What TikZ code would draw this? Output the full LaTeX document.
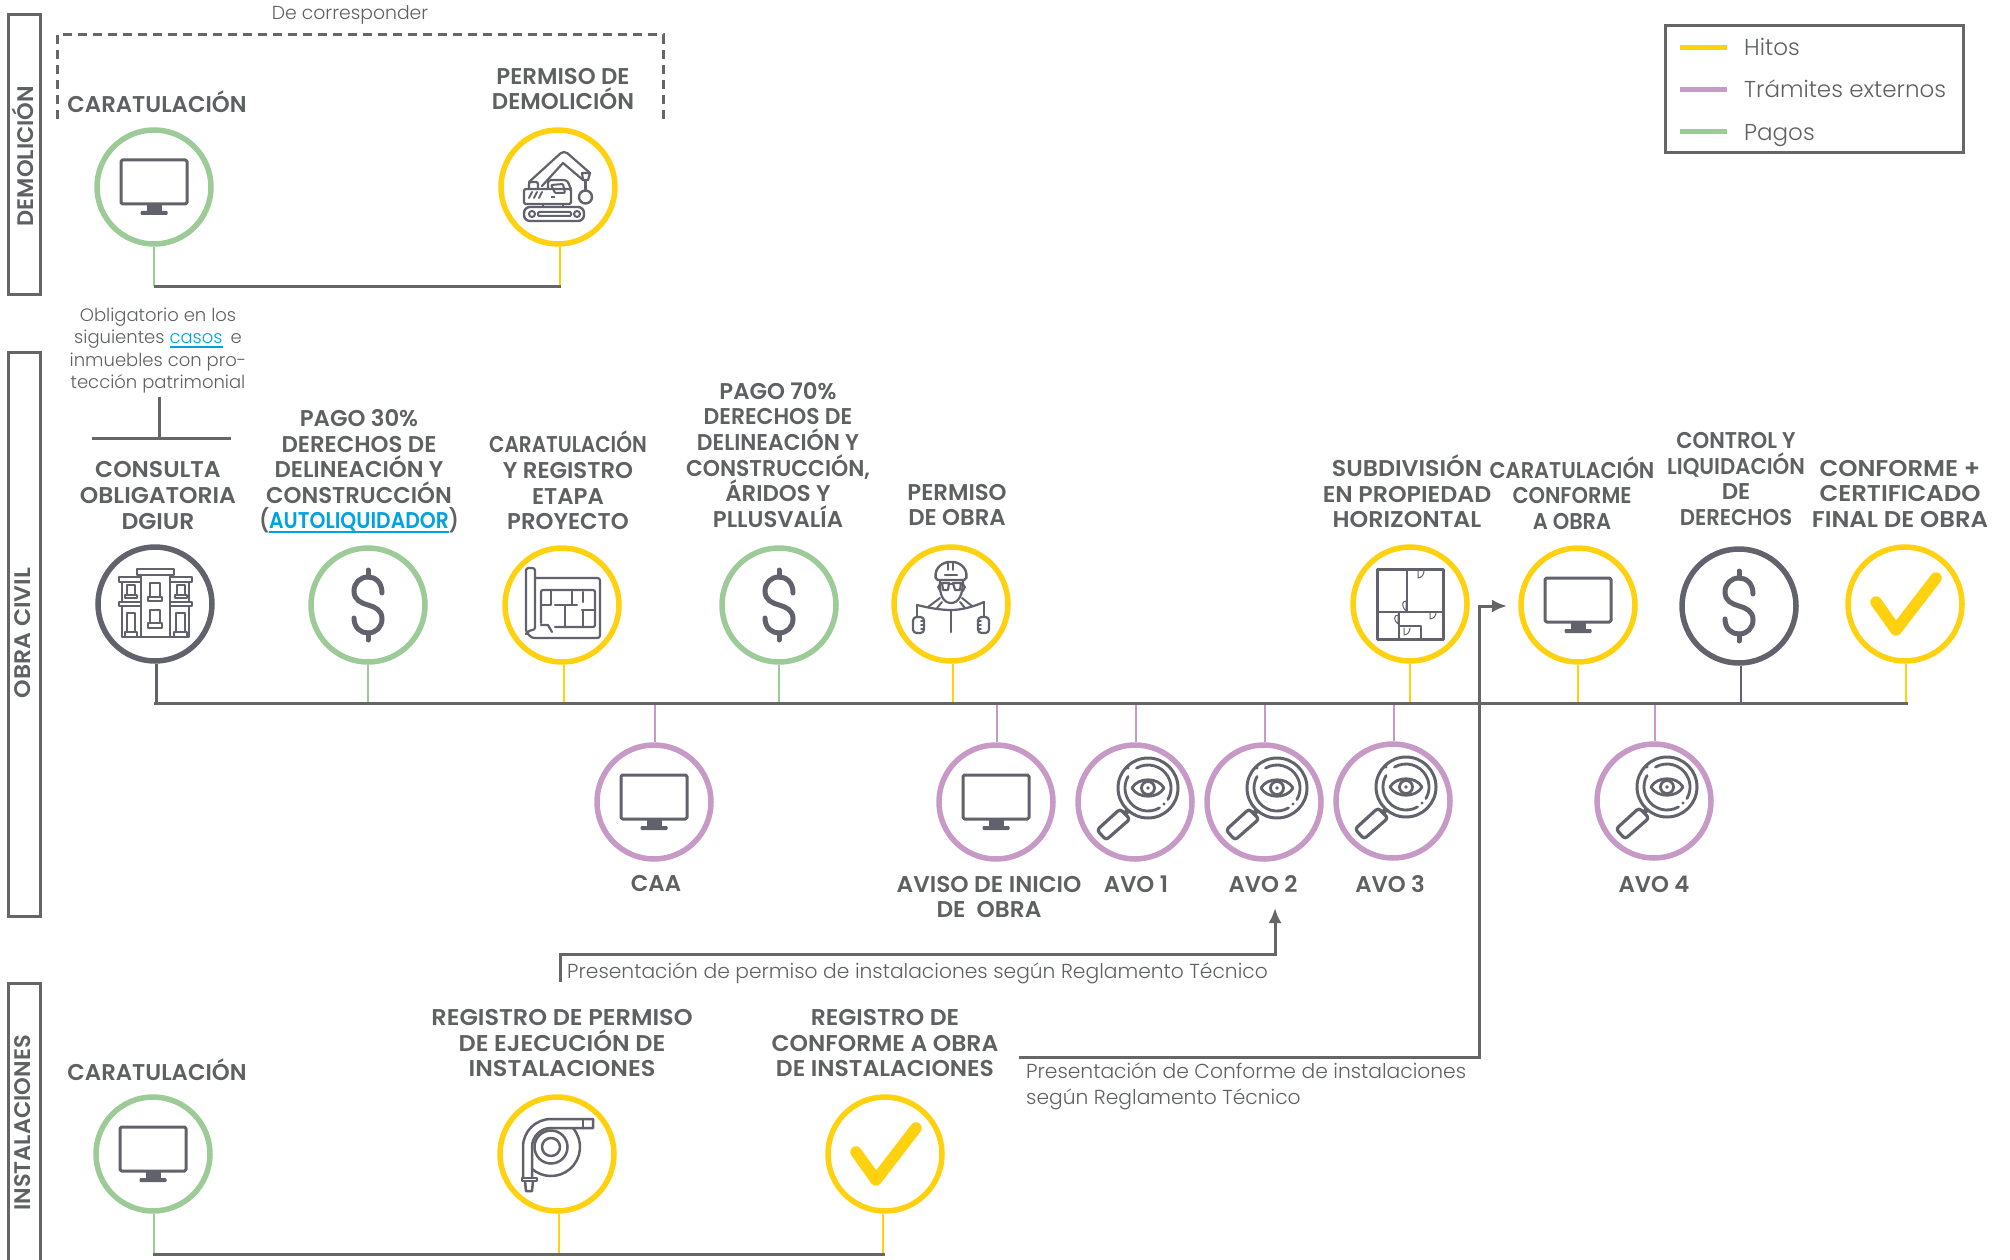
\documentclass[tikz,border=0pt]{standalone}
\usepackage{fontspec}
\usepackage{graphicx}
\setmainfont{Poppins}[BoldFont={Poppins SemiBold}]
\newfontfamily\lightf{Poppins Light}
\usetikzlibrary{arrows.meta}
\definecolor{yel}{HTML}{FFD10F}
\definecolor{pur}{HTML}{C799C6}
\definecolor{grn}{HTML}{9CCB98}
\definecolor{gry}{HTML}{666666}
\definecolor{dgr}{HTML}{62626C}
\definecolor{txg}{HTML}{5F6062}
\definecolor{blu}{HTML}{00A3E0}
\newcommand\myul[1]{\setbox0\hbox{#1}\rlap{\rule[-4.5pt]{\wd0}{2pt}}\box0}
\newcommand\sx[2]{\scalebox{#1}[1]{#2}}
\tikzset{
 ringnode/.style={circle,draw=#1,fill=white,line width=5.5pt,minimum size=114pt,inner sep=0pt},
 lab/.style={text=txg,align=center,inner sep=0pt,font=\fontsize{22.8}{25.6}\selectfont\bfseries},
 body/.style={text=txg,align=left,inner sep=0pt,font=\lightf\fontsize{18}{22.4}\selectfont},
 bodyb/.style={text=txg,align=left,inner sep=0pt,font=\lightf\fontsize{20.25}{25.6}\selectfont},
 legt/.style={text=txg,anchor=base west,inner sep=0pt,font=\lightf\fontsize{23}{26}\selectfont},
 side/.style={text=txg,rotate=90,inner sep=0pt,font=\fontsize{22.5}{24}\selectfont\bfseries},
 bus/.style={draw=gry,line width=3pt},
 stem/.style={line width=2.6pt},
 ic/.style={draw=dgr,line width=2.8pt,line join=round,line cap=round},
 ict/.style={draw=dgr,line width=1.8pt,line join=round,line cap=round},
 monitor/.pic={
  \draw[ic,line width=3pt,rounded corners=1.5pt] (-33,-27) rectangle (33,17);
  \fill[dgr] (-7.5,17) rectangle (7.5,25);
  \fill[dgr,rounded corners=1pt] (-13.5,24) rectangle (13.5,28);
 },
 dollar/.pic={
  \draw[draw=dgr,line width=5pt,line cap=round] (14,-12) .. controls (14,-23) and (7,-28) .. (0,-28) .. controls (-8,-28) and (-14,-22) .. (-14,-14) .. controls (-14,-5) and (-7,-2) .. (0,0) .. controls (7,2) and (14,5) .. (14,14) .. controls (14,22) and (8,28) .. (0,28) .. controls (-7,28) and (-14,23) .. (-14,13);
  \draw[draw=dgr,line width=5pt,line cap=round] (0,-35) -- (0,-28) (0,28) -- (0,35);
 },
 checkmk/.pic={
  \draw[draw=yel,line width=11.5pt,line cap=round,line join=round] (-29,-2) -- (-9,26) -- (31,-26);
 },
 magnif/.pic={
  \draw[ic,line width=3pt] (13,-14) circle (30);
  \draw[ic] (13,-14) ++(240:23) arc (240:390:23);
  \draw[ic] (13,-14) ++(60:23) arc (60:210:23);
  \fill[dgr] (29,2) circle (1.6) (-7,-34) circle (1.6);
  \draw[ic] (-3,-14) .. controls (3,-25) and (23,-25) .. (29,-14) .. controls (23,-3) and (3,-3) .. (-3,-14) -- cycle;
  \draw[ic] (13,-14) circle (6.5);
  \fill[dgr] (13,-14) circle (1.8);
  \draw[ic,line width=5pt,line cap=butt] (-7,8) -- (-10,12);
  \draw[ic,line width=3.2pt,rounded corners=3pt] (-15,7) -- (-5,17) -- (-29,38) -- (-38,28) -- cycle;
 },
 buildingic/.pic={
  \draw[ict] (-18,-35) rectangle (19,-29);
  \draw[ict] (-14,-29) -- (-14,33) (15,-29) -- (15,33);
  \draw[ict] (-36,-27) rectangle (-14,-22) (15,-27) rectangle (37,-22);
  \draw[ict] (-36,-2) rectangle (-14,2) (15,-2) rectangle (37,2);
  \draw[ict] (-33,-22) -- (-33,-2) (34,-22) -- (34,-2) (-33,2) -- (-33,33) -- (34,33) -- (34,2);
  \draw[ict] (-28,-19) rectangle (-20,-9) (-30,-9) rectangle (-18,-6) (22,-19) rectangle (30,-9) (20,-9) rectangle (32,-6);
  \draw[ict] (-5,-21) rectangle (5,-7) (-7,-7) rectangle (7,-3);
  \draw[ict] (-5,6) rectangle (5,19) (-7,19) rectangle (7,24);
  \draw[ict] (-28,9) rectangle (-20,28) (-30,28) rectangle (-18,33) (21,9) rectangle (30,28) (19,28) rectangle (32,33);
 },
 blueprintic/.pic={
  \draw[ict,line width=2.2pt,rounded corners=2.5pt] (-27,-27) -- (38,-27) -- (38,33) -- (-30,33) -- (-36,27) -- (-36,-37) -- (-27,-37) -- (-27,25) -- (-32,25) -- (-36,29);
  \draw[ict,line width=2.2pt,rounded corners=2pt] (-21,18) -- (-21,-15) -- (33,-15) -- (33,22) -- (-7,22);
  \draw[ict,line width=2.2pt] (-21,20) -- (-14,20) -- (-10,27);
  \draw[ict,line width=2.2pt] (-11,-15) -- (-11,0) -- (-20,0) (-7,0) -- (15,0) (3,0) -- (3,22) (10,-15) -- (10,0) (21,-13) -- (21,-3) (20,5) -- (33,5) (21,5) -- (21,22);
 },
 excav/.pic={
  \draw[ic,line width=2.4pt,rounded corners=6pt] (-34,20) rectangle (26,34);
  \draw[ict,line width=2pt] (-26,27) circle (3) (19,27) circle (3);
  \draw[ict,line width=2pt,rounded corners=1pt] (-20,25) rectangle (13,29);
  \draw[ic,line width=2.2pt,rounded corners=1.5pt] (-34,2) rectangle (13,17);
  \draw[ic,line width=2.2pt,rounded corners=2pt] (-29,2) -- (-29,-5) -- (-20,-5) -- (-20,2);
  \draw[ic,line width=2.2pt,rounded corners=3pt] (-10,2) -- (-10,-7) -- (9,-7) -- (13,2);
  \draw[ict,line width=2pt,rounded corners=1pt] (-7,-2) -- (5,-3) -- (7,6) -- (-3,6) -- cycle;
  \draw[ic,line width=2.2pt,rounded corners=2pt] (-29,-5) -- (4,-35) -- (8,-35) -- (32,-14);
  \draw[ic,line width=2.2pt] (-16,-1) -- (5,-24) -- (25,-7);
  \draw[ic,line width=2.2pt] (24,-14) -- (32,-14) -- (30,-7) -- (25,-7) -- cycle;
  \draw[ic,line width=2.2pt] (27.5,-7) -- (27.5,3);
  \draw[ic,line width=2.4pt] (27.5,10) circle (6.5);
  \draw[ict,line width=2pt] (-29,11) -- (-26,5) (-24,11) -- (-21,5) (-19,11) -- (-16,5);
  \fill[dgr] (-7,9) rectangle (-3,11);
  \draw[ict,line width=2pt] (-15,17) -- (-15,20) (5,17) -- (5,20);
 },
 engineer/.pic={
  \draw[ict,line width=2.4pt,rounded corners=2pt] (-15,-24) .. controls (-17,-37) and (-7,-42) .. (0,-42) .. controls (7,-42) and (17,-37) .. (15,-24) -- cycle;
  \draw[ict] (-3,-41) -- (-3,-34) (2,-41) -- (2,-34);
  \draw[ict,line width=2.2pt] (-6,-29) -- (6,-29);
  \draw[ict,line width=2.2pt] (-11,-23) .. controls (-12,-10) and (-8,-1) .. (0,-1) .. controls (8,-1) and (12,-10) .. (12,-23);
  \draw[ict,line width=2.2pt] (-9,-21) -- (-2,-21) -- (-3,-14) -- (-8,-14) -- cycle (2,-21) -- (10,-21) -- (9,-14) -- (4,-14) -- cycle;
  \draw[ict] (-2,-20) -- (2,-20) (-11,-20) -- (-13,-17) -- (-11,-13) (12,-20) -- (14,-17) -- (12,-13);
  \draw[ict,line width=2pt] (-23,3) -- (-11,-6) (21,2) -- (11,-6) (-14,4) -- (-9,-2) (14,4) -- (9,-2);
  \draw[ict,line width=2.2pt] (-34,1) .. controls (-22,4) and (-10,6) .. (0,6) .. controls (10,6) and (22,3) .. (33,-2);
  \draw[ict,line width=2.2pt] (0,6) -- (0,28) (-34,1) -- (-34,13) (33,-2) -- (33,13);
  \draw[ict,line width=2.2pt,rounded corners=3.5pt] (-38,13) rectangle (-27,29) (27,13) rectangle (38,29);
  \draw[ict,line width=1.6pt] (-30,17) -- (-27,17) (-30,21) -- (-27,21) (-30,25) -- (-27,25) (30,17) -- (27,17) (30,21) -- (27,21) (30,25) -- (27,25);
 },
 floorplan/.pic={
  \draw[ic,line width=3pt,line cap=butt] (-33,-35) rectangle (33,35);
  \draw[ic,line width=2.4pt] (-3,-35) -- (-3,8) (-33,8) -- (33,8) (-11,8) -- (-11,35) (-11,22) -- (11,22) -- (11,35);
  \draw[ict,line width=1pt] (8,-33) -- (8,-26) .. controls (11,-26) and (14,-29) .. (14,-33);
  \draw[ict,line width=1pt] (-4,7) -- (-4,-3) .. controls (-8,-3) and (-9,2) .. (-4,7);
  \draw[ict,line width=1pt] (20,9) -- (20,15) .. controls (23,15) and (26,12) .. (26,9);
  \draw[ict,line width=1pt] (-12,20) -- (-12,11) .. controls (-16,11) and (-17,16) .. (-12,20);
  \draw[ict,line width=1pt] (-6,24) -- (-6,31) .. controls (-3,31) and (0,28) .. (0,24);
 },
 hoseic/.pic={
  \draw[ic,line width=2.5pt] (-6,-7) circle (9);
  \draw[ic,line width=2.5pt] (-6,-7) circle (16.5);
  \draw[ic,line width=2.5pt] (36,-35) -- (-6,-35) arc (-90:-180:28) -- (-34,24);
  \draw[ic,line width=2.5pt] (-25,24) -- (-25,-7) arc (180:270:19) -- (36,-26) -- (36,-35);
  \draw[ic,line width=2.5pt] (26,-35) -- (26,-26);
  \draw[ic,line width=2.5pt] (-6,-7) ++(-40:29) arc (-40:131:29);
  \draw[ic,line width=2.5pt] (-35,24) rectangle (-20,27);
  \draw[ic,line width=2.5pt] (-32,27) -- (-31,37) -- (-25,37) -- (-24,27);
 },
}
\begin{document}
\begin{tikzpicture}[x=1pt,y=-1pt]
\useasboundingbox (0,0) rectangle (2010,1260);
% side tabs
\draw[bus] (8,15) rectangle (40,294);
\draw[bus] (8,352) rectangle (40,916);
\draw[bus] (8,1260) -- (8,983) -- (40,983) -- (40,1260);
\node[side] (sd) at (23,156) {DEMOLICIÓN};
\node[side] (so) at (23,633) {\sx{1.05}{OBRA CIVIL}};
\node[side] (si) at (23,1123) {INSTALACIONES};
% dashed frame
\draw[bus,dashed,dash pattern=on 9pt off 6pt] (57,119) -- (57,35) -- (663,35) -- (663,119);
\node[body,font=\lightf\fontsize{18.8}{22.4}\selectfont] (dc) at (350,15) {De corresponder};
% legend
\draw[bus] (1665,26) rectangle (1963,153);
\coordinate (la) at (1680,48); \coordinate (lb) at (1727,48);
\coordinate (lc) at (1680,90); \coordinate (ld) at (1727,90);
\coordinate (le) at (1680,132); \coordinate (lf) at (1727,132);
\draw[yel,line width=5pt] (la) -- (lb);
\draw[pur,line width=5pt] (lc) -- (ld);
\draw[grn,line width=5pt] (le) -- (lf);
\node[legt] (l1) at (1744,56) {Hitos};
\node[legt] (l2) at (1744,98) {Trámites externos};
\node[legt] (l3) at (1744,141) {Pagos};
% demolicion row
\node[ringnode=grn] (d1) at (154,187) {};
\node[ringnode=yel] (d2) at (558,187) {};
\pic at (154,187) {monitor};
\pic at (558,187) {excav};
\coordinate (b1a) at (154,286); \coordinate (b1b) at (561,286);
\draw[grn,stem] (d1.south) -- (d1.south |- b1a);
\draw[yel,stem] ([xshift=2pt]d2.south) -- ([xshift=2pt]d2.south |- b1a);
\draw[bus] (b1a) -- (b1b);
\node[lab] (t1) at (157,102) {CARATULACIÓN};
\node[lab] (t2) at (563,89) {PERMISO DE\\DEMOLICIÓN};
% obligatorio
\node[body,align=center] (ob) at (158,350.5) {Obligatorio en los\\siguientes \textcolor{blu}{\myul{casos}}\, e\\inmuebles con pro-\\tección patrimonial};
\coordinate (oa) at (92,438); \coordinate (oc) at (231,438); \coordinate (od) at (159,438);
\draw[bus] (159,397) -- (od);
\draw[bus] (oa) -- (oc);
% obra civil top
\node[ringnode=dgr] (o1) at (155,604) {};
\node[ringnode=grn] (o2) at (368,605) {};
\node[ringnode=yel] (o3) at (562,605) {};
\node[ringnode=grn] (o4) at (779,605) {};
\node[ringnode=yel] (o5) at (951,604) {};
\node[ringnode=yel] (o6) at (1410,604) {};
\node[ringnode=yel] (o7) at (1578,605) {};
\node[ringnode=dgr] (o8) at (1739,606) {};
\node[ringnode=yel] (o9) at (1905,604) {};
\pic at (155,604) {buildingic};
\pic at (368,605) {dollar};
\pic at (562,605) {blueprintic};
\pic at (779,605) {dollar};
\pic at (951,604) {engineer};
\pic at (1410,604) {floorplan};
\pic at (1578,605) {monitor};
\pic at (1739,606) {dollar};
\pic at (1905,604) {checkmk};
% obra civil bottom
\node[ringnode=pur] (u1) at (654,802) {};
\node[ringnode=pur] (u2) at (996,802) {};
\node[ringnode=pur] (u3) at (1135,802) {};
\node[ringnode=pur] (u4) at (1264,802) {};
\node[ringnode=pur] (u5) at (1393,801) {};
\node[ringnode=pur] (u6) at (1654,801) {};
\pic at (654,802) {monitor};
\pic at (996,802) {monitor};
\pic at (1135,802) {magnif};
\pic at (1264,802) {magnif};
\pic at (1393,801) {magnif};
\pic at (1654,801) {magnif};
% stems
\coordinate (b2a) at (154,703); \coordinate (b2b) at (1908,703);
\draw[dgr,stem,line width=3pt] ([xshift=1pt]o1.south) -- ([xshift=1pt]o1.south |- b2a);
\draw[grn,stem] (o2.south) -- (o2.south |- b2a);
\draw[yel,stem] ([xshift=2pt]o3.south) -- ([xshift=2pt]o3.south |- b2a);
\draw[grn,stem] (o4.south) -- (o4.south |- b2a);
\draw[yel,stem] ([xshift=2pt]o5.south) -- ([xshift=2pt]o5.south |- b2a);
\draw[yel,stem] (o6.south) -- (o6.south |- b2a);
\draw[yel,stem] (o7.south) -- (o7.south |- b2a);
\draw[dgr,stem] ([xshift=2pt]o8.south) -- ([xshift=2pt]o8.south |- b2a);
\draw[yel,stem] ([xshift=1pt]o9.south) -- ([xshift=1pt]o9.south |- b2a);
\foreach \n in {u1,u2,u3,u4,u5,u6}{\draw[pur,stem] ([xshift=1pt]\n.north) -- ([xshift=1pt]\n.north |- b2a);}
\draw[bus] (b2a) -- (b2b);
% obra civil labels
\node[lab] (a1) at (158,495.5) {\sx{1.03}{CONSULTA}\\\sx{1.03}{OBLIGATORIA}\\\sx{1.03}{DGIUR}};
\node[lab] (a2) at (359,471.5) {PAGO 30\%\\DERECHOS DE\\DELINEACIÓN Y\\CONSTRUCCIÓN\\\sx{.89}{(\textcolor{blu}{\myul{AUTOLIQUIDADOR}})}};
\node[lab] (a3) at (568,480.5) {\sx{.88}{CARATULACIÓN}\\Y REGISTRO\\ETAPA\\PROYECTO};
\node[lab] (a4) at (778,455) {PAGO 70\%\\\sx{.96}{DERECHOS DE}\\\sx{.96}{DELINEACIÓN Y}\\\sx{.96}{CONSTRUCCIÓN,}\\ÁRIDOS Y\\PLLUSVALÍA};
\node[lab] (a5) at (957,505) {PERMISO\\DE OBRA};
\node[lab] (a6) at (1407,491.5) {\sx{1.04}{SUBDIVISIÓN}\\\sx{1.04}{EN PROPIEDAD}\\\sx{1.04}{HORIZONTAL}};
\node[lab] (a7) at (1572,493) {\sx{.92}{CARATULACIÓN}\\\sx{.92}{CONFORME}\\\sx{.92}{A OBRA}};
\node[lab] (a8) at (1736,479) {\sx{.93}{CONTROL Y}\\\sx{.93}{LIQUIDACIÓN}\\DE\\\sx{.93}{DERECHOS}};
\node[lab] (a9) at (1900,494) {\sx{1.07}{CONFORME +}\\\sx{1.07}{CERTIFICADO}\\\sx{1.07}{FINAL DE OBRA}};
\node[lab] (v1) at (656,884) {CAA};
\node[lab] (v2) at (989,897) {\sx{1.02}{AVISO DE INICIO}\\\sx{1.02}{DE\ \ OBRA}};
\node[lab] (v3) at (1136,884) {AVO 1};
\node[lab] (v4) at (1263,884) {AVO 2};
\node[lab] (v5) at (1390,884) {AVO 3};
\node[lab] (v6) at (1654,884) {AVO 4};
% instalaciones
\node[ringnode=grn] (i1) at (153,1154) {};
\node[ringnode=yel] (i2) at (557,1154) {};
\node[ringnode=yel] (i3) at (885,1154) {};
\pic at (153,1154) {monitor};
\pic at (557,1154) {hoseic};
\pic at (885,1154) {checkmk};
\coordinate (b3a) at (153,1254); \coordinate (b3b) at (885,1254);
\draw[grn,stem] ([xshift=1pt]i1.south) -- ([xshift=1pt]i1.south |- b3a);
\draw[yel,stem] ([xshift=2pt]i2.south) -- ([xshift=2pt]i2.south |- b3a);
\draw[yel,stem] ([xshift=-2pt]i3.south) -- ([xshift=-2pt]i3.south |- b3a);
\draw[bus] (b3a) -- (b3b);
\node[lab] (n1) at (157,1070) {CARATULACIÓN};
\node[lab] (n2) at (562,1043) {\sx{1.05}{REGISTRO DE PERMISO}\\\sx{1.05}{DE EJECUCIÓN DE}\\\sx{1.05}{INSTALACIONES}};
\node[lab] (n3) at (885,1043) {\sx{1.03}{REGISTRO DE}\\\sx{1.03}{CONFORME A OBRA}\\\sx{1.03}{DE INSTALACIONES}};
% arrows
\coordinate (p1) at (560,982); \coordinate (p2) at (560,954); \coordinate (p3) at (1275,954); \coordinate (p4) at (1275,908);
\draw[bus,-{Latex[length=15pt,width=13pt]}] (p1) -- (p2) -- (p3) -- (p4);
\coordinate (q1) at (1019,1057); \coordinate (q2) at (1479,1057); \coordinate (q3) at (1479,606); \coordinate (q4) at (1507,606);
\draw[bus,-{Latex[length=15pt,width=13pt]}] (q1) -- (q2) -- (q3) -- (q4);
\node[bodyb,anchor=west] (x1) at (567,973) {Presentación de permiso de instalaciones según Reglamento Técnico};
\node[bodyb,anchor=north west] (x2) at (1026,1063) {Presentación de Conforme de instalaciones\\según Reglamento Técnico};
\end{tikzpicture}
\end{document}
